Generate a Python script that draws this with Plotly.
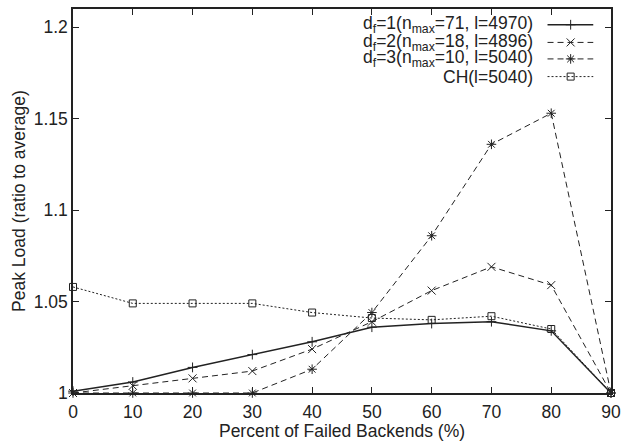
import plotly.graph_objects as go

x_pct = [0, 10, 20, 30, 40, 50, 60, 70, 80, 90]
df1 = [1.001, 1.006, 1.014, 1.021, 1.028, 1.036, 1.038, 1.039, 1.034, 1.000]
df2 = [1.000, 1.004, 1.008, 1.012, 1.024, 1.039, 1.056, 1.069, 1.059, 1.000]
df3 = [1.000, 1.000, 1.000, 1.000, 1.013, 1.044, 1.086, 1.136, 1.153, 1.000]
ch = [1.058, 1.049, 1.049, 1.049, 1.044, 1.041, 1.040, 1.042, 1.035, 1.000]

legend_labels = [
    "d<sub>f</sub>=1(n<sub>max</sub>=71, l=4970)",
    "d<sub>f</sub>=2(n<sub>max</sub>=18, l=4896)",
    "d<sub>f</sub>=3(n<sub>max</sub>=10, l=5040)",
    "CH(l=5040)",
]
y_tickvals = [1.0, 1.05, 1.1, 1.15, 1.2]
y_ticktext = ["1", "1.05", "1.1", "1.15", "1.2"]
x_tickvals = x_pct

C = "#222222"
FONT = "Liberation Sans, Arial, Helvetica, sans-serif"
FS = 17.5

styles = [
    dict(dash="solid", width=1.5, symbol="cross-thin-open", size=7),
    dict(dash="6px,4px", width=1.0, symbol="x-thin-open", size=8),
    dict(dash="6px,4px", width=1.0, symbol="asterisk-open", size=8),
    dict(dash="2px,2px", width=1.0, symbol="square-open", size=7),
]
series = [df1, df2, df3, ch]

fig = go.Figure()
for ys, st in zip(series, styles):
    fig.add_trace(go.Scatter(
        x=x_pct, y=ys, mode="lines+markers", cliponaxis=False,
        line=dict(color=C, width=st["width"], dash=st["dash"]),
        marker=dict(symbol=st["symbol"], size=st["size"], color=C,
                    line=dict(color=C, width=1)),
        showlegend=False,
    ))

# manual legend (text right-aligned, sample on the right) on an overlay axis
row_y = [0.959, 0.913, 0.870, 0.824]
for lab, st, ry in zip(legend_labels, styles, row_y):
    fig.add_trace(go.Scatter(
        x=[0.882, 0.967], y=[ry, ry], mode="lines", xaxis="x2", yaxis="y2",
        line=dict(color=C, width=st["width"], dash=st["dash"]), showlegend=False,
        hoverinfo="skip",
    ))
    fig.add_trace(go.Scatter(
        x=[0.925], y=[ry], mode="markers", xaxis="x2", yaxis="y2",
        marker=dict(symbol=st["symbol"], size=st["size"], color=C,
                    line=dict(color=C, width=1)),
        showlegend=False, hoverinfo="skip",
    ))
    fig.add_annotation(
        x=0.858, y=ry, xref="paper", yref="paper", text=lab, showarrow=False,
        xanchor="right", yanchor="middle", font=dict(size=FS, color=C, family=FONT),
    )

axis_common = dict(
    showgrid=False, zeroline=False, showline=True, linecolor=C, linewidth=1.5,
    mirror="ticks", ticks="inside", ticklen=6, tickcolor=C, tickwidth=1,
    tickfont=dict(size=FS, color=C, family=FONT),
)
fig.update_layout(
    width=628, height=441,
    margin=dict(l=73, r=12, t=7, b=41),
    plot_bgcolor="white", paper_bgcolor="white",
    font=dict(family=FONT, size=FS, color=C),
    xaxis=dict(range=[0, 90], tickvals=x_tickvals, ticklabelstandoff=2,
               title=dict(text="Percent of Failed Backends (%)", standoff=0,
                          font=dict(size=FS, color=C, family=FONT)),
               **axis_common),
    yaxis=dict(range=[1.0, 1.21], tickvals=y_tickvals, ticktext=y_ticktext,
               title=dict(text="Peak Load (ratio to average)", standoff=4,
                          font=dict(size=FS, color=C, family=FONT)),
               **axis_common),
    xaxis2=dict(overlaying="x", range=[0, 1], visible=False, fixedrange=True),
    yaxis2=dict(overlaying="y", range=[0, 1], visible=False, fixedrange=True),
)

fig.write_html("out.html")
